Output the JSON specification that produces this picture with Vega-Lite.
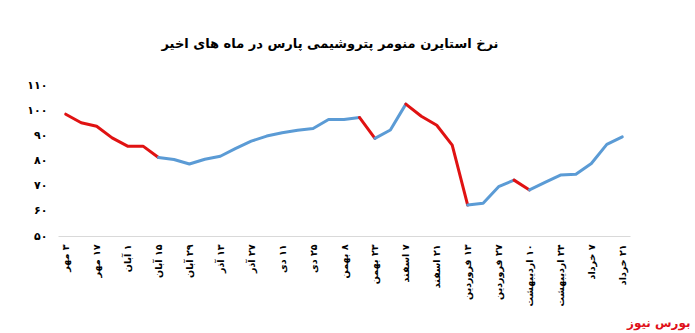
{
  "$schema": "https://vega.github.io/schema/vega-lite/v6.json",
  "width": 572,
  "height": 151,
  "autosize": {"type": "none"},
  "padding": {"left": 58, "top": 85, "right": 65, "bottom": 97},
  "background": "white",
  "config": {"view": {"stroke": null}, "font": "DejaVu Sans"},
  "title": {
    "text": "نرخ استایرن منومر پتروشیمی پارس در ماه های اخیر",
    "fontSize": 13,
    "fontWeight": "bold",
    "color": "#000000",
    "anchor": "middle",
    "offset": 28,
    "dx": -14
  },
  "data": {
    "values": [
      {"d": "۳ مهر", "v": 98.4, "s": 1, "c": "down"},
      {"d": "۱۰ مهر", "v": 95.0, "s": 1, "c": "down"},
      {"d": "۱۷ مهر", "v": 93.6, "s": 1, "c": "down"},
      {"d": "۲۴ مهر", "v": 89.0, "s": 1, "c": "down"},
      {"d": "۱ آبان", "v": 85.7, "s": 1, "c": "down"},
      {"d": "۸ آبان", "v": 85.7, "s": 1, "c": "down"},
      {"d": "۱۵ آبان", "v": 81.2, "s": 1, "c": "down"},
      {"d": "۱۵ آبان", "v": 81.2, "s": 2, "c": "up"},
      {"d": "۲۲ آبان", "v": 80.4, "s": 2, "c": "up"},
      {"d": "۲۹ آبان", "v": 78.6, "s": 2, "c": "up"},
      {"d": "۶ آذر", "v": 80.5, "s": 2, "c": "up"},
      {"d": "۱۳ آذر", "v": 81.7, "s": 2, "c": "up"},
      {"d": "۲۰ آذر", "v": 84.8, "s": 2, "c": "up"},
      {"d": "۲۷ آذر", "v": 87.7, "s": 2, "c": "up"},
      {"d": "۴ دی", "v": 89.7, "s": 2, "c": "up"},
      {"d": "۱۱ دی", "v": 91.0, "s": 2, "c": "up"},
      {"d": "۱۸ دی", "v": 92.0, "s": 2, "c": "up"},
      {"d": "۲۵ دی", "v": 92.7, "s": 2, "c": "up"},
      {"d": "۱ بهمن", "v": 96.3, "s": 2, "c": "up"},
      {"d": "۸ بهمن", "v": 96.3, "s": 2, "c": "up"},
      {"d": "۱۵ بهمن", "v": 97.1, "s": 2, "c": "up"},
      {"d": "۱۵ بهمن", "v": 97.1, "s": 3, "c": "down"},
      {"d": "۲۳ بهمن", "v": 88.8, "s": 3, "c": "down"},
      {"d": "۲۳ بهمن", "v": 88.8, "s": 4, "c": "up"},
      {"d": "۳۰ بهمن", "v": 92.1, "s": 4, "c": "up"},
      {"d": "۷ اسفند", "v": 102.4, "s": 4, "c": "up"},
      {"d": "۷ اسفند", "v": 102.4, "s": 5, "c": "down"},
      {"d": "۱۴ اسفند", "v": 97.6, "s": 5, "c": "down"},
      {"d": "۲۱ اسفند", "v": 94.0, "s": 5, "c": "down"},
      {"d": "۲۸ اسفند", "v": 86.1, "s": 5, "c": "down"},
      {"d": "۱۳ فروردین", "v": 62.3, "s": 5, "c": "down"},
      {"d": "۱۳ فروردین", "v": 62.3, "s": 6, "c": "up"},
      {"d": "۲۰ فروردین", "v": 63.0, "s": 6, "c": "up"},
      {"d": "۲۷ فروردین", "v": 69.6, "s": 6, "c": "up"},
      {"d": "۳ اردیبهشت", "v": 72.2, "s": 6, "c": "up"},
      {"d": "۳ اردیبهشت", "v": 72.2, "s": 7, "c": "down"},
      {"d": "۱۰ اردیبهشت", "v": 68.3, "s": 7, "c": "down"},
      {"d": "۱۰ اردیبهشت", "v": 68.3, "s": 8, "c": "up"},
      {"d": "۱۷ اردیبهشت", "v": 71.3, "s": 8, "c": "up"},
      {"d": "۲۴ اردیبهشت", "v": 74.2, "s": 8, "c": "up"},
      {"d": "۳۱ اردیبهشت", "v": 74.5, "s": 8, "c": "up"},
      {"d": "۷ خرداد", "v": 78.8, "s": 8, "c": "up"},
      {"d": "۱۴ خرداد", "v": 86.4, "s": 8, "c": "up"},
      {"d": "۲۱ خرداد", "v": 89.4, "s": 8, "c": "up"}
    ]
  },
  "mark": {"type": "line", "strokeWidth": 3, "strokeJoin": "round", "strokeCap": "round"},
  "encoding": {
    "x": {
      "field": "d",
      "type": "ordinal",
      "sort": null,
      "scale": {"type": "point", "padding": 0.5},
      "axis": {
        "values": ["۳ مهر", "۱۷ مهر", "۱ آبان", "۱۵ آبان", "۲۹ آبان", "۱۳ آذر", "۲۷ آذر", "۱۱ دی", "۲۵ دی", "۸ بهمن", "۲۳ بهمن", "۷ اسفند", "۲۱ اسفند", "۱۳ فروردین", "۲۷ فروردین", "۱۰ اردیبهشت", "۲۴ اردیبهشت", "۷ خرداد", "۲۱ خرداد"],
        "labelExpr": "'\u200f' + datum.label",
        "labelAngle": -90,
        "labelPadding": 8,
        "labelFontSize": 9.5,
        "labelFontWeight": "bold",
        "labelColor": "#000000",
        "ticks": false,
        "grid": false,
        "domainColor": "#d9d9d9",
        "domainWidth": 1,
        "title": "بورس نیوز",
        "titleColor": "#e0101a",
        "titleFontSize": 12,
        "titleFontWeight": "bold",
        "titleAlign": "right",
        "titleBaseline": "alphabetic",
        "titleX": 632,
        "titleY": 90
      }
    },
    "y": {
      "field": "v",
      "type": "quantitative",
      "scale": {"domain": [50, 110], "nice": false, "zero": false},
      "axis": {
        "values": [50, 60, 70, 80, 90, 100, 110],
        "labelExpr": "['۵۰','۶۰','۷۰','۸۰','۹۰','۱۰۰','۱۱۰'][(datum.value-50)/10]",
        "labelFontSize": 11,
        "labelFontWeight": "bold",
        "labelColor": "#000000",
        "labelPadding": 11,
        "ticks": false,
        "grid": false,
        "domain": false,
        "title": null
      }
    },
    "detail": {"field": "s"},
    "color": {
      "field": "c",
      "type": "nominal",
      "scale": {"domain": ["down", "up"], "range": ["#e01212", "#5b9bd5"]},
      "legend": null
    }
  }
}
